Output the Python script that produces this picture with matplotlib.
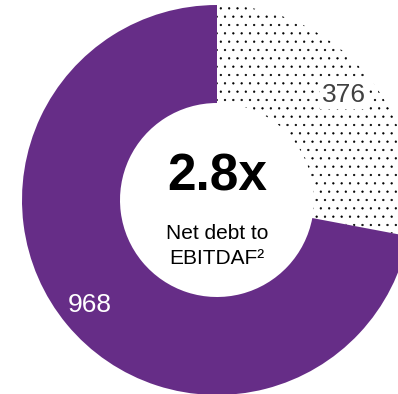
import matplotlib
matplotlib.use("Agg")
import matplotlib.pyplot as plt

plt.rcParams['font.family'] = ['Liberation Sans', 'DejaVu Sans']
plt.rcParams['hatch.linewidth'] = 0.4

# net debt split (values shown on the ring)
segments = ['other', 'main']
values = [376, 968]
seg_colors = ['white', '#662d87']
label_colors = ['#404040', 'white']
ratio_text = '2.8x'
ratio_caption = ['Net debt to', 'EBITDAF²']

W, H = 398, 394
fig = plt.figure(figsize=(W / 100, H / 100), dpi=100)
ax = fig.add_axes([0, 0, 1, 1])

cx, cy = 217, 194
R = 195
ring = 98

wedges, texts = ax.pie(values, labels=[str(v) for v in values], colors=seg_colors,
                       startangle=90, counterclock=False, radius=R, center=(cx, cy),
                       labeldistance=0.845, frame=False,
                       wedgeprops=dict(width=ring, linewidth=0, edgecolor='black'),
                       textprops=dict(fontsize=19, ha='center', va='center'))
wedges[0].set_hatch('..')
wedges[1].set_edgecolor('#662d87')
for t, c in zip(texts, label_colors):
    t.set_color(c)
    t.set_horizontalalignment('center')
texts[0].set_bbox(dict(facecolor='white', edgecolor='none', pad=1.5))

ax.text(cx, cy + 23, ratio_text, fontsize=37, fontweight='bold',
        ha='center', va='center', color='black')
ax.text(cx, cy - 33, ratio_caption[0], fontsize=15, ha='center', va='center', color='black')
ax.text(cx, cy - 58, ratio_caption[1], fontsize=15, ha='center', va='center', color='black')

ax.set_xlim(0, W)
ax.set_ylim(0, H)
ax.set_aspect('auto')
ax.set_axis_off()

fig.savefig('out.png', dpi=100)
